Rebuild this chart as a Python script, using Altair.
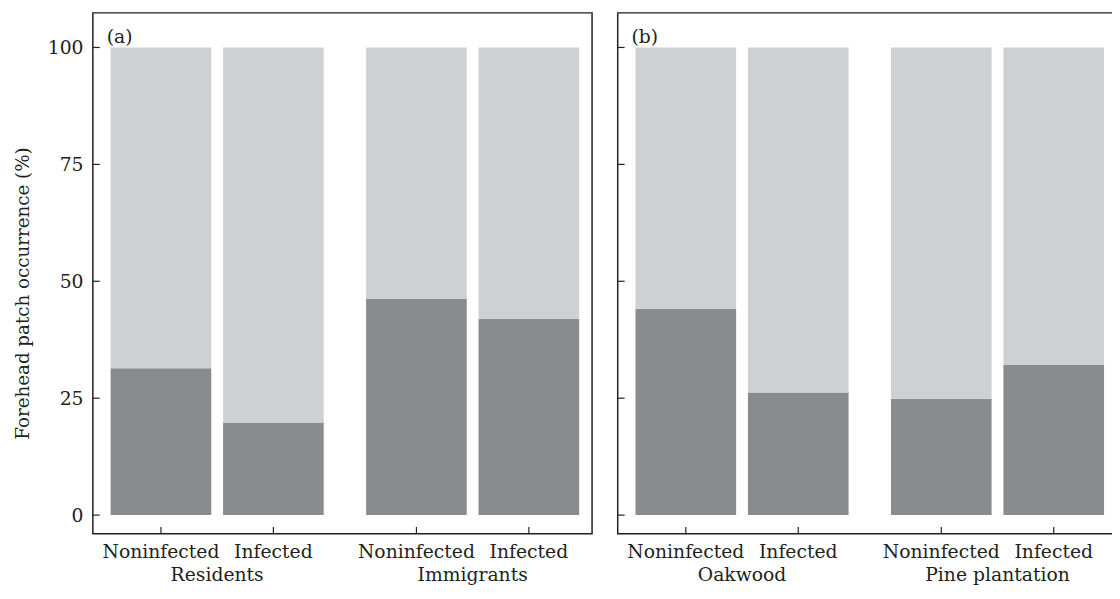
import altair as alt
import pandas as pd

# ---- data ----
status = ["Noninfected", "Infected"]
groups_a = ["Residents", "Immigrants"]
groups_b = ["Oakwood", "Pine plantation"]
# % occurrence of forehead patch (dark part of the bar)
values_a = [31.4, 19.8, 46.2, 42.0]   # Residents N, I ; Immigrants N, I
values_b = [44.1, 26.2, 24.9, 32.1]   # Oakwood N, I ; Pine plantation N, I
y_ticks = [0, 25, 50, 75, 100]
panel_labels = ["(a)", "(b)"]

FONT = "DejaVu Serif"
INK = "#231f20"
DARK = "#8a8b8f"
LIGHT = "#cfd0d2"
W, H = 506, 528


def make_df(groups, values):
    rows = []
    i = 0
    for g in groups:
        for s in status:
            v = values[i]
            rows.append({"group": g, "status": s, "part": "present", "value": v, "ord": 0})
            rows.append({"group": g, "status": s, "part": "absent", "value": 100 - v, "ord": 1})
            i += 1
    return pd.DataFrame(rows)


def panel(groups, values, label, show_axis):
    df = make_df(groups, values)
    lab = pd.DataFrame([{"group": g, "status": s} for g in groups for s in status])
    gdf = pd.DataFrame({"group": groups})
    tdf = pd.DataFrame({"t": y_ticks})

    xscale = alt.Scale(domain=groups, paddingInner=0.166, paddingOuter=0.06, align=0.58)
    xoff = alt.Scale(domain=status, paddingInner=0.105, paddingOuter=0)
    yscale = alt.Scale(domain=[-4.0, 107.4], nice=False, zero=False)

    if show_axis:
        yaxis = alt.Axis(title="Forehead patch occurrence (%)", values=y_ticks, ticks=False,
                         domain=False, grid=False, labelPadding=10, titlePadding=15,
                         labelFont=FONT, labelFontSize=19, labelColor=INK,
                         titleFont=FONT, titleFontSize=18.5, titleFontWeight="normal",
                         titleColor=INK, titleY=284)
    else:
        yaxis = None

    bars = alt.Chart(df).mark_bar(strokeWidth=0).encode(
        x=alt.X("group:N", scale=xscale, axis=None),
        xOffset=alt.XOffset("status:N", scale=xoff),
        y=alt.Y("value:Q", stack="zero", scale=yscale, axis=yaxis),
        color=alt.Color("part:N", scale=alt.Scale(domain=["present", "absent"], range=[DARK, LIGHT]),
                        legend=None),
        order=alt.Order("ord:Q"),
    )

    xticks = alt.Chart(lab).mark_rule(color=INK, strokeWidth=1.2).encode(
        x=alt.X("group:N", scale=xscale, axis=None),
        xOffset=alt.XOffset("status:N", scale=xoff),
        y=alt.value(H),
        y2=alt.value(H - 7),
    )

    slabels = alt.Chart(lab).mark_text(font=FONT, fontSize=19, color=INK, baseline="alphabetic").encode(
        x=alt.X("group:N", scale=xscale, axis=None),
        xOffset=alt.XOffset("status:N", scale=xoff),
        y=alt.value(H + 25),
        text="status:N",
    )

    glabels = alt.Chart(gdf).mark_text(font=FONT, fontSize=19, color=INK, baseline="alphabetic").encode(
        x=alt.X("group:N", scale=xscale, axis=None),
        y=alt.value(H + 48),
        text="group:N",
    )

    yt = alt.Chart(tdf).mark_rule(color=INK, strokeWidth=1.2).encode(
        y=alt.Y("t:Q", scale=yscale),
        x=alt.value(0),
        x2=alt.value(7),
    )

    plabel = alt.Chart(pd.DataFrame({"l": [label]})).mark_text(
        font=FONT, fontSize=19, color=INK, align="left", baseline="alphabetic"
    ).encode(x=alt.value(14), y=alt.value(31), text="l:N")

    return alt.layer(bars, xticks, slabels, glabels, yt, plabel).properties(width=W, height=H)


left = panel(groups_a, values_a, panel_labels[0], True)
right = panel(groups_b, values_b, panel_labels[1], False)

chart = alt.hconcat(left, right, spacing=23).resolve_scale(x="independent", xOffset="independent").properties(
    padding={"left": 4, "top": 0, "right": -6, "bottom": -2}
).configure(background="white").configure_view(stroke=INK, strokeWidth=1.5)

chart.save("out.html", embed_options={"renderer": "svg", "actions": False})
